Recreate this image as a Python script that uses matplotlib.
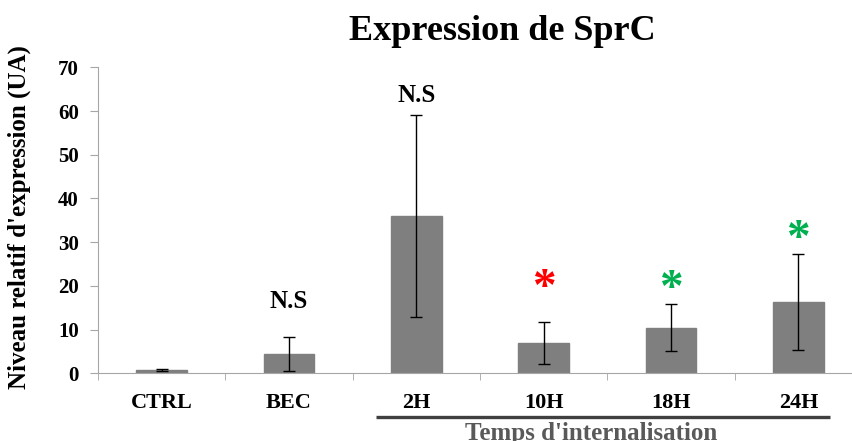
import numpy as np
import matplotlib.pyplot as plt

categories = ['CTRL', 'BEC', '2H', '10H', '18H', '24H']
means = [0.8, 4.35, 36.0, 6.9, 10.4, 16.4]
errors = [0.2, 3.9, 23.2, 4.8, 5.4, 11.0]
marks = ['', 'N.S', 'N.S', '*', '*', '*']
mark_y = [0, 16.4, 63.5, 21.6, 21.3, 32.8]
mark_colors = ['black', 'black', 'black', '#ff0000', '#00b050', '#00b050']

plt.rcParams['font.family'] = ['Liberation Serif', 'DejaVu Serif']
plt.rcParams['font.weight'] = 'bold'

fig = plt.figure(figsize=(8.53, 4.41), dpi=100)
ax = fig.add_axes([98 / 853, 67.7 / 441, 764 / 853, 306 / 441])

x = np.arange(len(categories))
ax.bar(x, means, width=0.4, color='#7f7f7f', edgecolor='#7f7f7f', zorder=2)
ax.errorbar(x, means, yerr=errors, fmt='none', ecolor='black', elinewidth=1,
            capsize=4, capthick=1, zorder=3)

for i, (m, y, c) in enumerate(zip(marks, mark_y, mark_colors)):
    if m == '*':
        ax.text(i, y - 2.3, m, ha='center', va='center', fontsize=34, color=c)
    elif m:
        ax.text(i, y, m, ha='center', va='center', fontsize=18, color=c)

ax.set_xlim(-0.5, len(categories) - 0.5)
ax.set_ylim(0, 70)
ax.set_yticks(range(0, 71, 10))
ax.set_xticks(x)
ax.set_xticklabels(categories, fontsize=16, fontweight='bold')
ax.set_xticks(np.arange(-0.5, len(categories), 1), minor=True)
ax.tick_params(axis='x', which='major', length=0, pad=14)
ax.tick_params(axis='x', which='minor', length=5, color='#a6a6a6', direction='out')
ax.tick_params(axis='y', length=5.8, color='#a6a6a6', labelsize=15, pad=8)
for lab in ax.get_yticklabels():
    lab.set_fontweight('bold')

for s in ['top', 'right']:
    ax.spines[s].set_visible(False)
ax.spines['left'].set_color('#a6a6a6')
ax.spines['bottom'].set_color('#a6a6a6')

ax.set_ylabel("Niveau relatif d'expression (UA)", fontsize=18, fontweight='bold')
ax.yaxis.set_label_coords(-0.088, 0.509)

# group line under the time points
ax.plot([1.68, 5.25], [-9.9, -9.9], color='#404040', lw=2.4, clip_on=False,
        solid_capstyle='butt')
ax.text(3.37, -13.8, "Temps d'internalisation", ha='center', va='center',
        fontsize=18, fontweight='bold', color='#595959', clip_on=False)

fig.text(502 / 853, 1 - 40 / 441, 'Expression de SprC', ha='center',
         va='baseline', fontsize=26, fontweight='bold')

fig.savefig('out.png', dpi=100)
